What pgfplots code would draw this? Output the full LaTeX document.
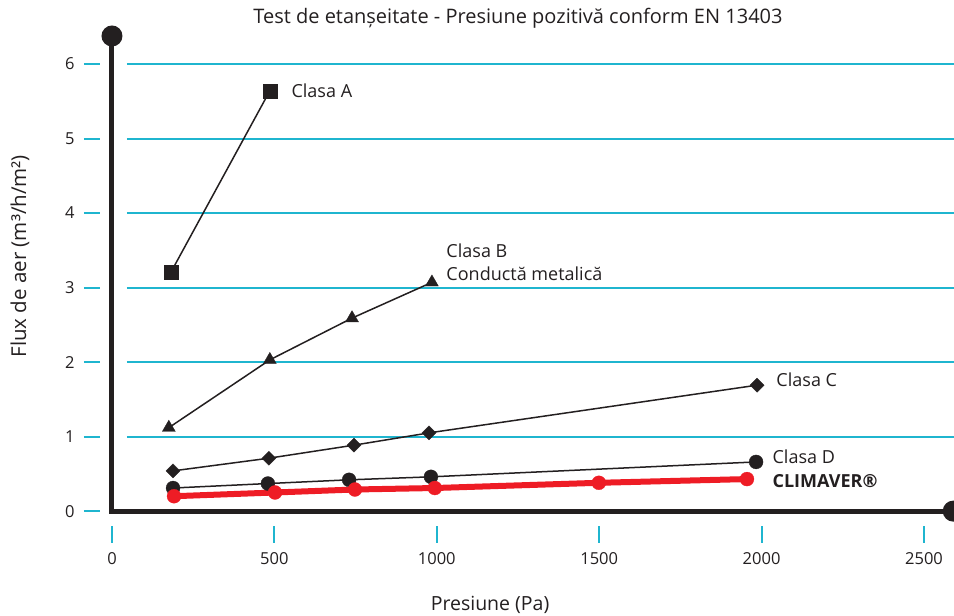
\documentclass[border=0pt]{standalone}
\usepackage{fontspec}
\setmainfont{Open Sans}
\usepackage{pgfplots}
\pgfplotsset{compat=1.18}
\definecolor{ink}{HTML}{231F20}
\definecolor{cyn}{HTML}{1FB5CF}
\definecolor{rd}{HTML}{EE1C25}
\newcommand{\lbl}{\fontsize{18}{21}\selectfont}
\begin{document}
\begin{tikzpicture}
\begin{axis}[
  scale only axis, width=841pt, height=475pt,
  xmin=0, xmax=2590, ymin=0, ymax=6.376,
  clip=false,
  axis lines=left, axis line style={draw=none,-},
  xtick={0,500,...,2500}, ytick={0,1,...,6},
  major tick length=0pt,
  tick label style={font=\fontsize{16.5}{18}\selectfont, text=ink},
  /pgf/number format/assume math mode=true,
  /pgf/number format/1000 sep={},
  yticklabel style={xshift=-34pt},
  xticklabel style={yshift=-38pt},
]
% bounding box corners
\coordinate (bl) at (axis cs:-344.8,-1.396);
\coordinate (tr) at (axis cs:2592.4,6.859);
% grid lines
\pgfplotsinvokeforeach{1,...,6}{
  \draw[cyn, line width=2pt] (axis cs:46,#1) -- (axis cs:2595,#1);
  \draw[cyn, line width=2pt] ([xshift=-28pt]axis cs:0,#1) -- ([xshift=-12pt]axis cs:0,#1);
}
\draw[cyn, line width=2pt] ([xshift=-28pt]axis cs:0,0) -- ([xshift=-12pt]axis cs:0,0);
\pgfplotsinvokeforeach{0,500,1000,1500,2000,2500}{
  \draw[cyn, line width=2pt] ([yshift=-15pt]axis cs:#1,0) -- ([yshift=-32pt]axis cs:#1,0);
}
% axis lines
\draw[ink, line width=5pt] (axis cs:0,6.376) -- (axis cs:0,0) -- (axis cs:2590,0);
\fill[ink] (axis cs:0,6.376) circle[radius=10.5pt];
\fill[ink] (axis cs:2590,0) circle[radius=10.5pt];
% data
\addplot[ink, line width=1.5pt, mark=square*, mark size=7pt, mark options={line width=0.3pt}] coordinates {(182,3.21) (486,5.64)};
\addplot[ink, line width=1.5pt, mark=triangle*, mark size=7.5pt, mark options={line width=0.3pt}] coordinates {(175,1.12) (486,2.03) (739,2.59) (985,3.07)};
\addplot[ink, line width=1.5pt, mark=square*, mark size=5pt, mark options={rotate=45, line width=0.3pt}] coordinates {(188,0.54) (483,0.71) (745,0.885) (976,1.05) (1986,1.69)};
\addplot[ink, line width=1.5pt, mark=*, mark size=7pt, mark options={line width=0.3pt}] coordinates {(188,0.31) (480,0.37) (730,0.42) (982,0.46) (1983,0.66)};
\addplot[rd, line width=6pt, mark=*, mark size=7pt, mark options={line width=0.3pt}] coordinates {(191,0.20) (502,0.25) (748,0.29) (994,0.31) (1499,0.38) (1955,0.43)};
% labels
\node[anchor=west, text=ink, font=\lbl] at (axis cs:542,5.64) {Clasa A};
\node[anchor=west, text=ink, font=\lbl] at (axis cs:1019,3.50) {Clasa B};
\node[anchor=west, text=ink, font=\lbl] at (axis cs:1019,3.19) {Conductă metalică};
\node[anchor=west, text=ink, font=\lbl] at (axis cs:2035,1.76) {Clasa C};
\node[anchor=west, text=ink, font=\lbl] at (axis cs:2023,0.725) {Clasa D};
\node[anchor=west, text=ink, font=\lbl\bfseries] at (axis cs:2023,0.40) {CLIMAVER®};
% title and axis labels
\node[text=ink, font=\fontsize{20}{22}\selectfont] at ([yshift=18pt]axis cs:1250,6.376) {Test de etanșeitate - Presiune pozitivă conform EN 13403};
\node[text=ink, font=\fontsize{19.5}{22}\selectfont] at ([yshift=-94pt]axis cs:1164,0) {Presiune (Pa)};
\node[text=ink, font=\fontsize{20.5}{22}\selectfont, rotate=90] at ([xshift=-92pt]axis cs:0,3.42) {Flux de aer (m³/h/m²)};
\end{axis}
\pgfresetboundingbox
\path (bl) rectangle (tr);
\end{tikzpicture}
\end{document}
